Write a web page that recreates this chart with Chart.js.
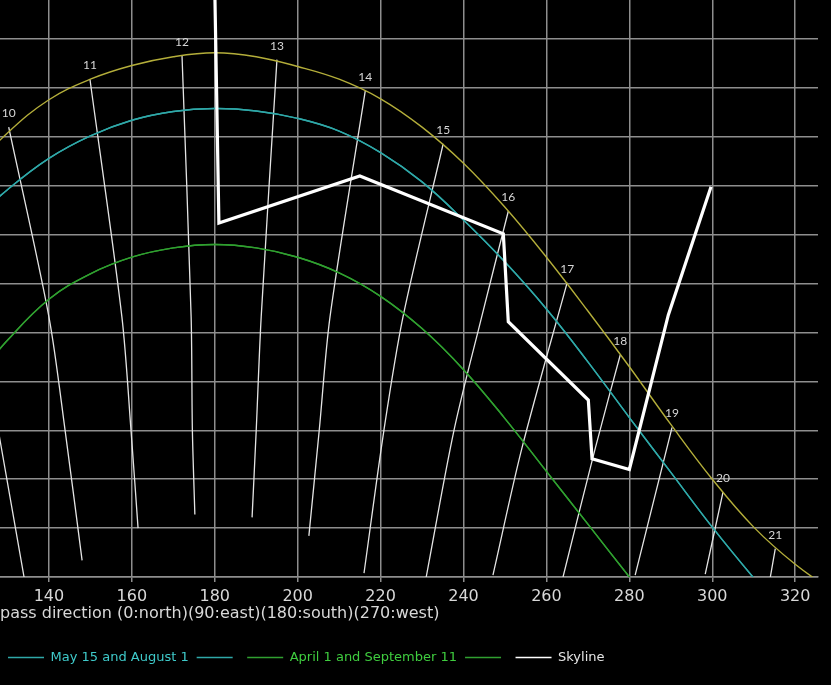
<!DOCTYPE html>
<html>
<head>
<meta charset="utf-8">
<script src="https://cdn.jsdelivr.net/npm/chart.js@4.4.0/dist/chart.umd.min.js"></script>
<style>
  html, body { margin: 0; padding: 0; background: #000; }
  #wrap { position: relative; width: 831px; height: 685px; background: #000; }
</style>
</head>
<body>
<div id="wrap"><canvas id="sunChart"></canvas></div>
<script>
// azimuth samples shared by the sun path curves
const curveAz = [120, 130, 140, 150, 160, 170, 180, 190, 200, 210, 220, 230, 240, 250, 260, 270, 280, 290, 300, 310, 320, 330];

// sun altitude along each date's path
const summerAlt = [66.0, 70.4, 73.8, 75.9, 77.3, 78.2, 78.6, 78.2, 77.2, 75.9, 73.9, 71.0, 67.3, 62.8, 57.7, 52.2, 46.5, 40.6, 35.0, 30.1, 26.3, 23.3];
const mayAugAlt = [60.8, 64.6, 67.8, 70.1, 71.7, 72.6, 72.9, 72.65, 71.9, 70.6, 68.4, 65.4, 61.5, 57.2, 52.4, 47.0, 41.3, 35.7, 30.1, 24.9, 20.0];
const aprSepAlt = [44.2, 49.2, 53.4, 56.0, 57.7, 58.65, 59.0, 58.65, 57.7, 56.1, 53.7, 50.4, 46.2, 41.2, 35.8, 30.4, 25.0, 19.7];

// skyline outline
const skylineAz  = [179.8, 181.0, 215.0, 249.6, 250.8, 270.1, 271.0, 280.0, 289.4, 299.7];
const skylineAlt = [90.0, 61.2, 66.0, 60.1, 51.1, 43.1, 37.1, 36.0, 51.8, 64.9];

// hour lines (first point is where the hour label sits)
const hourLabels = ['9', '10', '11', '12', '13', '14', '15', '16', '17', '18', '19', '20', '21'];
const hourAz = [
  [117.3, 128.2, 134.0],
  [130.3, 140.0, 143.9, 148.0],
  [149.9, 157.6, 159.8, 161.5],
  [172.1, 174.3, 174.6, 175.2],
  [195.0, 191.2, 190.0, 189.0],
  [216.3, 207.8, 205.2, 202.7],
  [235.1, 225.4, 220.8, 216.0],
  [250.8, 244.2, 237.7, 231.0],
  [265.0, 254.1, 247.1],
  [277.8, 271.8, 264.0],
  [290.3, 281.4],
  [302.6, 298.3],
  [315.2, 314.0]
];
const hourAlt = [
  [65.1, 39.0, 25.0],
  [71.0, 51.6, 40.0, 26.7],
  [75.9, 51.6, 40.0, 30.0],
  [78.3, 51.6, 40.0, 31.4],
  [77.9, 51.6, 40.0, 31.1],
  [74.7, 51.6, 40.0, 29.2],
  [69.3, 51.6, 40.0, 25.4],
  [62.4, 51.3, 40.0, 25.0],
  [55.1, 38.2, 25.2],
  [47.7, 38.2, 25.0],
  [40.3, 25.2],
  [33.7, 25.3],
  [27.9, 25.0]
];

const FONT = "'DejaVu Sans'";
const GRID = '#8e8e8e';

function pts(xs, ys) {
  return ys.map((y, i) => ({ x: xs[i], y: y }));
}

const datasets = [
  {
    label: 'June 21', inLegend: false,
    data: pts(curveAz, summerAlt),
    borderColor: '#b4ae3a', borderWidth: 1.4,
    pointRadius: 0, tension: 0.4
  },
  {
    label: 'May 15 and August 1', textColor: '#3fcaca',
    data: pts(curveAz, mayAugAlt),
    borderColor: '#2fa8a8', borderWidth: 1.4,
    pointRadius: 0, tension: 0.4
  },
  {
    label: '', textColor: '#3fcaca',
    data: pts(curveAz, mayAugAlt),
    borderColor: '#2fa8a8', borderWidth: 1.4,
    pointRadius: 0, tension: 0.4
  },
  {
    label: 'April 1 and September 11', textColor: '#3fcc3f',
    data: pts(curveAz, aprSepAlt),
    borderColor: '#30a030', borderWidth: 1.4,
    pointRadius: 0, tension: 0.4
  },
  {
    label: '', textColor: '#3fcc3f',
    data: pts(curveAz, aprSepAlt),
    borderColor: '#30a030', borderWidth: 1.4,
    pointRadius: 0, tension: 0.4
  },
  {
    label: 'Skyline', textColor: '#e6e6e6', order: -1,
    data: pts(skylineAz, skylineAlt),
    borderColor: '#ffffff', borderWidth: 3.2,
    pointRadius: 0, tension: 0
  }
];

hourLabels.forEach((h, i) => {
  datasets.push({
    label: h + ':00', inLegend: false, hourLabel: h,
    data: pts(hourAz[i], hourAlt[i]),
    borderColor: '#e4e4e4', borderWidth: 1.3,
    pointRadius: 0, tension: 0.3
  });
});

// hour numbers above the top end of each hour line
const hourLabelPlugin = {
  id: 'hourLabels',
  afterDatasetsDraw(chart) {
    const ctx = chart.ctx;
    ctx.save();
    ctx.font = '12px Lato';
    ctx.fillStyle = '#d6d6d6';
    ctx.textAlign = 'center';
    ctx.textBaseline = 'middle';
    chart.data.datasets.forEach((ds, i) => {
      if (!ds.hourLabel) return;
      const top = chart.getDatasetMeta(i).data[0];
      ctx.fillText(ds.hourLabel, top.x, top.y - 14);
    });
    ctx.restore();
  }
};

const ctx = document.getElementById('sunChart').getContext('2d');
new Chart(ctx, {
  type: 'line',
  data: { datasets: datasets },
  plugins: [hourLabelPlugin],
  options: {
    responsive: true,
    maintainAspectRatio: false,
    animation: false,
    layout: { padding: { left: 0, right: 13, top: 0, bottom: 11 } },
    scales: {
      x: {
        type: 'linear',
        min: 128.2, max: 325.5,
        ticks: {
          stepSize: 20, maxTicksLimit: 25, includeBounds: false,
          color: '#d8d8d8', padding: 8.6,
          font: { family: FONT, size: 16, lineHeight: 0.8 }
        },
        grid: { color: GRID, lineWidth: 1.5, tickLength: 5 },
        border: { color: GRID, width: 1.5 },
        title: {
          display: true, align: 'start',
          text: 'pass direction (0:north)(90:east)(180:south)(270:west)',
          color: '#d8d8d8',
          font: { family: FONT, size: 16, lineHeight: 0.5 },
          padding: { top: -2, bottom: 25 }
        }
      },
      y: {
        min: 25, max: 84,
        ticks: { display: false, stepSize: 5, maxTicksLimit: 25, includeBounds: false },
        grid: { color: GRID, lineWidth: 1.5, drawTicks: false },
        border: { display: false }
      }
    },
    plugins: {
      tooltip: { enabled: false },
      legend: {
        position: 'bottom',
        align: 'start',
        labels: {
          usePointStyle: true,
          pointStyle: 'line',
          pointStyleWidth: 36,
          padding: 8,
          font: { family: FONT, size: 13 },
          filter: (item, data) => data.datasets[item.datasetIndex].inLegend !== false,
          sort: (a, b) => a.datasetIndex - b.datasetIndex,
          generateLabels(chart) {
            const items = Chart.defaults.plugins.legend.labels.generateLabels(chart);
            return items.map(it => {
              it.fontColor = chart.data.datasets[it.datasetIndex].textColor || '#dddddd';
              it.lineWidth = 1.5;
              return it;
            });
          }
        }
      }
    }
  }
});
</script>
</body>
</html>
